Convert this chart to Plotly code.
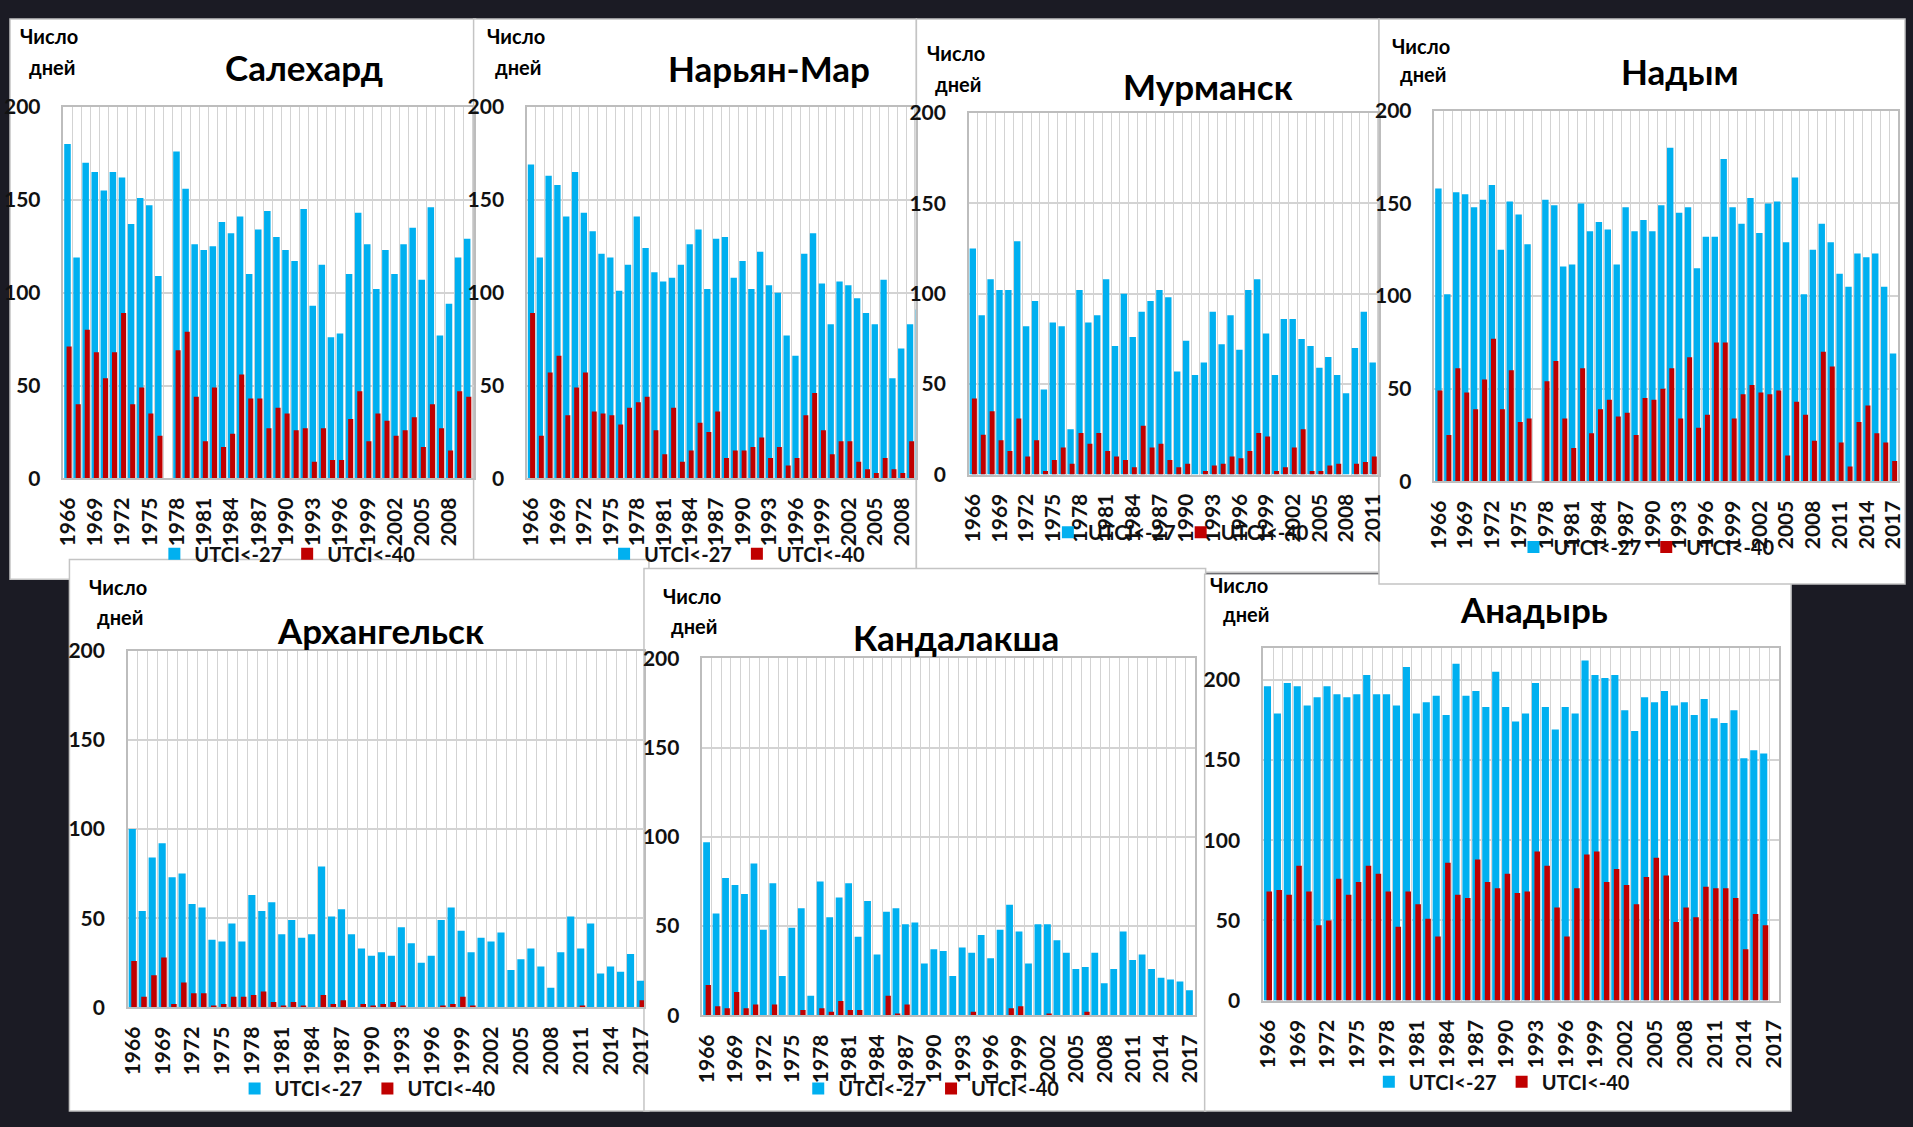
import plotly.graph_objects as go

W, H = 1913, 1127
BG = '#1b1b24'
BLUE = '#00B0F0'
RED = '#C00000'
GRID = '#d3d3d3'
AXIS = '#bdbdbd'
FONT = 'Lato'

LABEL_27 = 'UTCI<-27'
LABEL_40 = 'UTCI<-40'
Y_TITLE_1 = 'Число'
Y_TITLE_2 = 'дней'

# ---------------- data (days per year) ----------------
salekhard_years = list(range(1966, 2011))
salekhard_27 = [180, 119, 170, 165, 155, 165, 162, 137, 151, 147,
                109, None, 176, 156, 126, 123, 125, 138, 132, 141,
                110, 134, 144, 130, 123, 117, 145, 93, 115, 76,
                78, 110, 143, 126, 102, 123, 110, 126, 135, 107,
                146, 77, 94, 119, 129]
salekhard_40 = [71, 40, 80, 68, 54, 68, 89, 40, 49, 35,
                23, None, 69, 79, 44, 20, 49, 17, 24, 56,
                43, 43, 27, 38, 35, 26, 27, 9, 27, 10,
                10, 32, 47, 20, 35, 31, 23, 26, 33, 17,
                40, 27, 15, 47, 44]

naryan_years = list(range(1966, 2011))
naryan_27 = [169, 119, 163, 158, 141, 165, 143, 133, 121, 119,
             101, 115, 141, 124, 111, 106, 108, 115, 126, 134,
             102, 129, 130, 108, 117, 102, 122, 104, 100, 77,
             66, 121, 132, 105, 83, 106, 104, 97, 89, 83,
             107, 54, 70, 83, 91]
naryan_40 = [89, 23, 57, 66, 34, 49, 57, 36, 35, 34,
             29, 38, 41, 44, 26, 13, 38, 9, 15, 30,
             25, 36, 11, 15, 15, 17, 22, 11, 17, 7,
             11, 34, 46, 26, 13, 20, 20, 9, 5, 3,
             11, 5, 3, 20, None]

murmansk_years = list(range(1966, 2012))
murmansk_27 = [125, 88, 108, 102, 102, 129, 82, 96, 47, 84,
               82, 25, 102, 84, 88, 108, 71, 100, 76, 90,
               96, 102, 98, 57, 74, 55, 62, 90, 72, 88,
               69, 102, 108, 78, 55, 86, 86, 75, 71, 59,
               65, 55, 45, 70, 90, 62]
murmansk_40 = [42, 22, 35, 19, 13, 31, 10, 19, 2, 8,
               15, 6, 23, 17, 23, 13, 10, 8, 4, 27,
               15, 17, 8, 4, 6, 0, 2, 5, 6, 10,
               9, 13, 23, 21, 2, 4, 15, 25, 2, 2,
               5, 6, 0, 6, 7, 10]

nadym_years = list(range(1966, 2018))
nadym_27 = [158, 101, 156, 155, 148, 152, 160, 125, 151, 144,
            128, None, 152, 149, 116, 117, 150, 135, 140, 136,
            117, 148, 135, 141, 135, 149, 180, 145, 148, 115,
            132, 132, 174, 148, 139, 153, 134, 150, 151, 129,
            164, 101, 125, 139, 129, 112, 105, 123, 121, 123,
            105, 69]
nadym_40 = [49, 25, 61, 48, 39, 55, 77, 39, 60, 32,
            34, None, 54, 65, 34, 18, 61, 26, 39, 44,
            35, 37, 25, 45, 44, 50, 61, 34, 67, 29,
            36, 75, 75, 34, 47, 52, 48, 47, 49, 14,
            43, 36, 22, 70, 62, 21, 8, 32, 41, 26,
            21, 11]

arkh_years = list(range(1966, 2018))
arkh_27 = [100, 54, 84, 92, 73, 75, 58, 56, 38, 37,
           47, 37, 63, 54, 59, 41, 49, 39, 41, 79,
           51, 55, 41, 33, 29, 31, 29, 45, 36, 25,
           29, 49, 56, 43, 31, 39, 37, 42, 21, 27,
           33, 23, 11, 31, 51, 33, 47, 19, 23, 20,
           30, 15]
arkh_40 = [26, 6, 18, 28, 2, 14, 8, 8, 1, 2,
           6, 6, 7, 9, 3, 1, 3, 1, 0, 7,
           2, 4, 0, 2, 1, 2, 3, 1, 0, 0,
           0, 1, 2, 6, 1, 0, 0, 0, 0, 0,
           0, 0, 0, 0, 0, 1, 0, 0, 0, 0,
           0, 4]

kand_years = list(range(1966, 2018))
kand_27 = [97, 57, 77, 73, 68, 85, 48, 74, 22, 49,
           60, 11, 75, 55, 66, 74, 44, 64, 34, 58,
           60, 51, 52, 29, 37, 36, 22, 38, 35, 45,
           32, 48, 62, 47, 29, 51, 51, 42, 35, 26,
           27, 35, 18, 26, 47, 31, 34, 26, 21, 20,
           19, 14]
kand_40 = [17, 5, 4, 13, 4, 6, 0, 6, 0, 0,
           3, 0, 4, 2, 8, 3, 3, 0, 0, 11,
           1, 6, 0, 0, 0, 0, 0, 0, 2, 0,
           0, 0, 4, 5, 0, 0, 1, 0, 0, 0,
           2, 0, 0, 0, 0, 0, 0, 0, 0, 0,
           0, 0]

anadyr_years = list(range(1966, 2017))
anadyr_27 = [196, 179, 198, 196, 184, 189, 196, 191, 189, 191,
             203, 191, 191, 184, 208, 179, 186, 190, 178, 210,
             190, 193, 183, 205, 183, 174, 179, 198, 183, 169,
             183, 179, 212, 203, 201, 203, 181, 168, 189, 186,
             193, 184, 186, 178, 188, 176, 173, 181, 151, 156,
             154]
anadyr_40 = [68, 69, 66, 84, 68, 47, 50, 76, 66, 74,
             84, 79, 68, 46, 68, 60, 51, 40, 86, 66,
             64, 88, 74, 70, 79, 67, 68, 93, 84, 58,
             40, 70, 91, 93, 74, 82, 72, 60, 77, 89,
             78, 49, 58, 52, 71, 70, 70, 64, 32, 54,
             47]

# ---------------- layout (pixel positions in the 1913x1127 page) ----------------
panels = [
    dict(title='Салехард', years=salekhard_years, a=salekhard_27, b=salekhard_40,
         plot=(54, 95, 468, 475), ymax=200, xmax=2010.65,
         t=(297, 54), c1=(39, 22), c2=(42, 54), leg=(280, 552)),
    dict(title='Нарьян-Мар', years=naryan_years, a=naryan_27, b=naryan_40,
         plot=(522, 95, 915, 475), ymax=200, xmax=2009.66,
         t=(766, 55), c1=(511, 22), c2=(513, 54), leg=(734, 552)),
    dict(title='Мурманск', years=murmansk_years, a=murmansk_27, b=murmansk_40,
         plot=(968, 101, 1382, 471), ymax=200, xmax=2011.65,
         t=(1209, 74), c1=(955, 40), c2=(957, 72), leg=(1182, 530)),
    dict(title='Надым', years=nadym_years, a=nadym_27, b=nadym_40,
         plot=(1438, 99, 1906, 478), ymax=200, xmax=2017.5,
         t=(1685, 58), c1=(1424, 33), c2=(1426, 61), leg=(1652, 545)),
    dict(title='Архангельск', years=arkh_years, a=arkh_27, b=arkh_40,
         plot=(119, 651, 640, 1016), ymax=200, xmax=2017.29,
         t=(374, 630), c1=(109, 586), c2=(111, 617), leg=(361, 1099)),
    dict(title='Кандалакша', years=kand_years, a=kand_27, b=kand_40,
         plot=(699, 659, 1196, 1024), ymax=200, xmax=2017.5,
         t=(955, 637), c1=(688, 595), c2=(690, 626), leg=(930, 1099)),
    dict(title='Анадырь', years=anadyr_years, a=anadyr_27, b=anadyr_40,
         plot=(1265, 648, 1786, 1009), ymax=220, xmax=2017.5,
         t=(1538, 609), c1=(1241, 584), c2=(1248, 614), leg=(1506, 1092)),
]

# white panel cards (drawn in this order)
cards = [
    (0, 5, 470, 578),      # Салехард
    (468, 5, 915, 571),    # Нарьян-Мар
    (915, 5, 1382, 571),   # Мурманск
    (60, 558, 645, 1122),  # Архангельск
    (640, 567, 1207, 1122),  # Кандалакша
    (1206, 573, 1798, 1122),  # Анадырь
    (1382, 5, 1913, 583),  # Надым
]


def fx(px):
    return px / W


def fy(py):
    return 1 - py / H


fig = go.Figure()
layout = dict(
    width=W, height=H, margin=dict(l=0, r=0, t=0, b=0),
    paper_bgcolor=BG, plot_bgcolor='white',
    barmode='overlay', showlegend=True,
    font=dict(family=FONT, color='#111111'),
    shapes=[], annotations=[],
)

tick_font = dict(family=FONT, size=21, color='#111111', weight='bold')

for i, p in enumerate(panels, start=1):
    sx = '' if i == 1 else str(i)
    xa, ya = 'x' + sx, 'y' + sx
    legname = 'legend' + sx
    l, t, r, b = p['plot']

    fig.add_trace(go.Bar(
        x=p['years'], y=p['a'], name=LABEL_27, marker=dict(color=BLUE, line=dict(width=0)),
        width=0.72, offset=-0.42, xaxis=xa, yaxis=ya, legend=legname,
        hoverinfo='x+y'))
    fig.add_trace(go.Bar(
        x=p['years'], y=p['b'], name=LABEL_40, marker=dict(color=RED, line=dict(width=0)),
        width=0.56, offset=-0.16, xaxis=xa, yaxis=ya, legend=legname,
        hoverinfo='x+y'))

    layout['xaxis' + sx] = dict(
        domain=[fx(l), fx(r)], anchor=ya, range=[1965.5, p['xmax']],
        tickmode='linear', tick0=1966, dtick=3, tickangle=-90,
        tickfont=tick_font, showgrid=False, zeroline=False,
        showline=True, linecolor=AXIS, linewidth=1.5, mirror=True,
        ticks='', ticklabelstandoff=9,
        minor=dict(tick0=1965.5, dtick=1, showgrid=True, gridcolor=GRID, gridwidth=1.4, ticks=''),
        fixedrange=True,
    )
    layout['yaxis' + sx] = dict(
        domain=[fy(b), fy(t)], anchor=xa, range=[0, p['ymax']],
        tickmode='linear', tick0=0, dtick=50,
        tickfont=tick_font, showgrid=True, gridcolor=GRID, gridwidth=1.5,
        zeroline=False, showline=True, linecolor=AXIS, linewidth=1.5, mirror=True,
        ticks='', ticklabelstandoff=17, fixedrange=True,
    )
    layout[legname] = dict(
        x=fx(p['leg'][0]), y=fy(p['leg'][1]), xanchor='center', yanchor='middle',
        orientation='h', bgcolor='rgba(0,0,0,0)', itemwidth=30,
        font=dict(family=FONT, size=20, color='#111111', weight='bold'),
        tracegroupgap=0, itemclick=False, itemdoubleclick=False,
    )
    layout['annotations'] += [
        dict(text=p['title'], x=fx(p['t'][0]), y=fy(p['t'][1]), xref='paper', yref='paper',
             xanchor='center', yanchor='middle', showarrow=False,
             font=dict(family=FONT, size=35, color='#000000', weight='bold')),
        dict(text=Y_TITLE_1, x=fx(p['c1'][0]), y=fy(p['c1'][1]), xref='paper', yref='paper',
             xanchor='center', yanchor='middle', showarrow=False,
             font=dict(family=FONT, size=20, color='#000000', weight='bold')),
        dict(text=Y_TITLE_2, x=fx(p['c2'][0]), y=fy(p['c2'][1]), xref='paper', yref='paper',
             xanchor='center', yanchor='middle', showarrow=False,
             font=dict(family=FONT, size=20, color='#000000', weight='bold')),
    ]

for (x0, y0, x1, y1) in cards:
    layout['shapes'].append(dict(
        type='rect', xref='paper', yref='paper', layer='below',
        x0=fx(x0), x1=fx(x1), y0=fy(y1), y1=fy(y0),
        fillcolor='white', line=dict(color='#c4c4c4', width=1.5)))

fig.update_layout(**layout)
fig.write_html(
    'out.html',
    config=dict(displayModeBar=False),
    post_script="document.body.style.margin='0';document.body.style.overflow='hidden';",
)
